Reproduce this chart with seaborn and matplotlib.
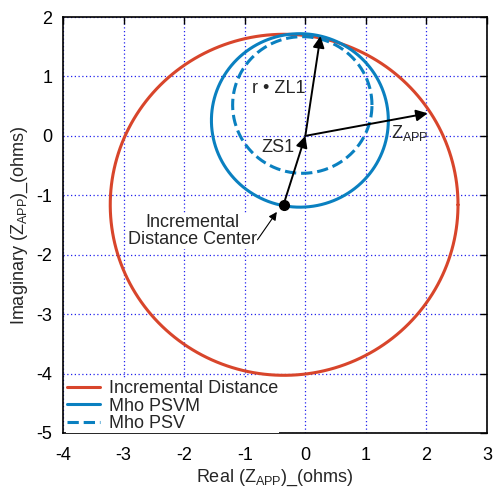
import numpy as np
import pandas as pd
import matplotlib
matplotlib.use("Agg")
import matplotlib.pyplot as plt
import seaborn as sns

# ---- data ----
circle_names = ["Incremental Distance", "Mho PSVM", "Mho PSV"]
circle_cx = [-0.35, -0.09, -0.05]
circle_cy = [-1.16, 0.26, 0.52]
circle_r = [2.87, 1.46, 1.15]
circle_colors = ["#d8452b", "#0a80c0", "#0a80c0"]
circle_styles = ["-", "-", "--"]

inc_center = (-0.36, -1.16)
origin = (0.0, 0.0)
zl1_tip = (0.25, 1.68)
zapp_tip = (2.02, 0.38)

xticks = [-4, -3, -2, -1, 0, 1, 2, 3]
yticks = [-5, -4, -3, -2, -1, 0, 1, 2]

sns.set_style("white")
plt.rcParams["font.family"] = ["Liberation Sans", "DejaVu Sans"]
plt.rcParams["mathtext.default"] = "regular"

FS = 13

fig = plt.figure(figsize=(4.94, 4.87), dpi=100)
ax = fig.add_axes([0.1275, 0.111, 0.8585, 0.854])

theta = np.linspace(0, 2 * np.pi, 400)
frames = []
for name, cx, cy, r in zip(circle_names, circle_cx, circle_cy, circle_r):
    frames.append(pd.DataFrame({"x": cx + r * np.cos(theta),
                                "y": cy + r * np.sin(theta),
                                "curve": name, "order": np.arange(len(theta))}))
df = pd.concat(frames, ignore_index=True)

for name, col, ls in zip(circle_names, circle_colors, circle_styles):
    sub = df[df["curve"] == name]
    sns.lineplot(data=sub, x="x", y="y", sort=False, estimator=None,
                 color=col, linestyle=ls, linewidth=2.2, label=name, ax=ax,
                 zorder=3, **({"dashes": (4.2, 2.2)} if ls == "--" else {}))

arrow = dict(arrowstyle="-|>", color="black", lw=1.4, mutation_scale=17,
             shrinkA=0, shrinkB=0)
ax.annotate("", xy=origin, xytext=inc_center, arrowprops=arrow, zorder=5)
ax.annotate("", xy=zl1_tip, xytext=origin, arrowprops=arrow, zorder=5)
ax.annotate("", xy=zapp_tip, xytext=origin, arrowprops=arrow, zorder=5)

ax.plot([inc_center[0]], [inc_center[1]], "o", color="black", ms=7, zorder=6)

ax.annotate("Incremental\nDistance Center", xy=(-0.47, -1.28), xytext=(-1.87, -1.6),
            ha="center", va="center", fontsize=FS, linespacing=1.0,
            bbox=dict(boxstyle="square,pad=0.05", fc="white", ec="none"),
            arrowprops=dict(arrowstyle="-|>", color="black", lw=0.8,
                            mutation_scale=12, shrinkA=0, shrinkB=0,
                            relpos=(1.0, 0.2)), zorder=5)

ax.text(-0.88, 0.79, "r • ZL1", ha="left", va="center", fontsize=FS, zorder=5)
ax.text(-0.72, -0.2, "ZS1", ha="left", va="center", fontsize=FS, zorder=5)
ax.text(1.42, 0.05, "Z$_{APP}$", ha="left", va="center", fontsize=FS, zorder=5)

ax.set_xlim(-4, 3)
ax.set_ylim(-5, 2)
ax.set_xticks(xticks)
ax.set_yticks(yticks)
ax.set_xticklabels([str(t) for t in xticks])
ax.set_yticklabels([str(t) for t in yticks])
ax.tick_params(direction="in", length=5, width=1, top=True, right=True,
               labelsize=FS, colors="black")
ax.tick_params(axis="x", pad=10)
ax.tick_params(axis="y", pad=7.5)
ax.grid(True, color="#2222ee", linestyle=(0, (1, 2)), linewidth=0.9, zorder=0)
ax.set_axisbelow(True)
for s in ax.spines.values():
    s.set_color("black")
    s.set_linewidth(1.2)

ax.set_xlabel("Real (Z$_{APP}$)_(ohms)", fontsize=FS, labelpad=2.5)
ax.set_ylabel("Imaginary (Z$_{APP}$)_(ohms)", fontsize=FS, labelpad=5)

leg = ax.legend(loc="lower left", frameon=True, fontsize=FS, handlelength=1.8,
                labelspacing=0.02, borderaxespad=0.0, borderpad=0.05,
                handletextpad=0.5, bbox_to_anchor=(0.008, 0.0))
leg.get_frame().set_edgecolor("none")
leg.get_frame().set_facecolor("white")
leg.get_frame().set_alpha(1)
leg.get_frame().set_boxstyle("square", pad=0)

fig.savefig("out.png", dpi=100)
